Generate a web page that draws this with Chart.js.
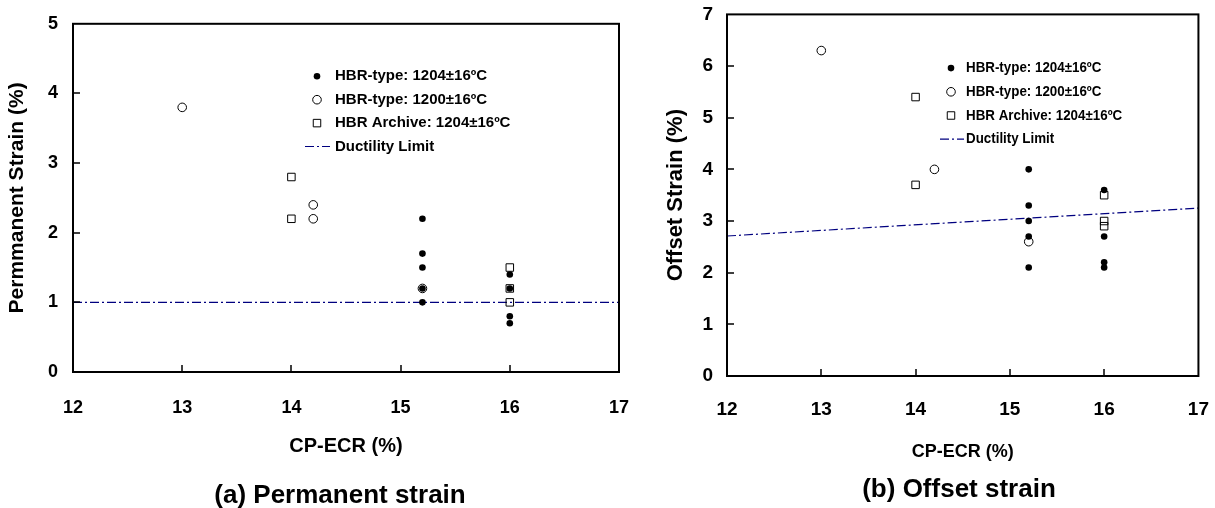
<!DOCTYPE html>
<html>
<head>
<meta charset="utf-8">
<script src="https://cdn.jsdelivr.net/npm/chart.js@4.4.1/dist/chart.umd.min.js"></script>
<style>
  html, body { margin: 0; padding: 0; background: #fff; }
  #wrap { position: relative; width: 1215px; height: 508px; overflow: hidden; }
  .box { position: absolute; }
  #boxA { left: 0; top: -2px; width: 660px; height: 510px; }
  #boxB { left: 650px; top: -11px; width: 581px; height: 519px; }
  .cap { position: absolute; font: bold 26px "Liberation Sans", Arial, sans-serif; color: #000;
         white-space: nowrap; transform: translate(-50%, -50%); }
</style>
</head>
<body>
<div id="wrap">
  <div class="box" id="boxA"><canvas id="chartA"></canvas></div>
  <div class="box" id="boxB"><canvas id="chartB"></canvas></div>
  <div class="cap" style="left:340px; top:494px">(a) Permanent strain</div>
  <div class="cap" style="left:959px; top:488px">(b) Offset strain</div>
</div>
<script>
// tick values
const xTickVals = [12, 13, 14, 15, 16, 17];
const yTickValsA = [0, 1, 2, 3, 4, 5];
const yTickValsB = [0, 1, 2, 3, 4, 5, 6, 7];

const seriesNames = ['HBR-type: 1204±16ºC', 'HBR-type: 1200±16ºC', 'HBR Archive: 1204±16ºC', 'Ductility Limit'];

// (a) permanent strain
const permFilledX = [15.2, 15.2, 15.2, 15.2, 15.2, 16, 16, 16, 16];
const permFilledY = [2.2, 1.7, 1.5, 1.2, 1.0, 1.4, 1.2, 0.8, 0.7];
const permOpenX = [13, 14.2, 14.2, 15.2];
const permOpenY = [3.8, 2.4, 2.2, 1.2];
const permArchX = [14, 14, 16, 16, 16];
const permArchY = [2.8, 2.2, 1.5, 1.2, 1.0];
const permLimitX = [12, 17];
const permLimitY = [1, 1];

// (b) offset strain
const offFilledX = [15.2, 15.2, 15.2, 15.2, 15.2, 16, 16, 16, 16];
const offFilledY = [4.0, 3.3, 3.0, 2.7, 2.1, 3.6, 2.7, 2.2, 2.1];
const offOpenX = [13, 14.2, 15.2];
const offOpenY = [6.3, 4.0, 2.6];
const offArchX = [14, 14, 16, 16, 16];
const offArchY = [5.4, 3.7, 3.5, 3.0, 2.9];
const offLimitX = [12, 17];
const offLimitY = [2.71, 3.25];

const pts = (xs, ys) => xs.map((x, i) => ({ x: x, y: ys[i] }));

function makeDatasets(fx, fy, ox, oy, ax, ay, lx, ly) {
  return [
    { label: seriesNames[0], data: pts(fx, fy), pointStyle: 'circle', pointRadius: 3.3,
      backgroundColor: '#000', borderColor: '#000', borderWidth: 0 },
    { label: seriesNames[1], data: pts(ox, oy), pointStyle: 'circle', pointRadius: 4.3,
      backgroundColor: 'rgba(0,0,0,0)', borderColor: '#000', borderWidth: 1 },
    { label: seriesNames[2], data: pts(ax, ay), pointStyle: 'rect', pointRadius: 5.3,
      backgroundColor: 'rgba(0,0,0,0)', borderColor: '#000', borderWidth: 1 },
    { label: seriesNames[3], data: pts(lx, ly), showLine: true, pointRadius: 0,
      borderColor: '#00007f', borderWidth: 1.2, borderDash: [9, 3, 2, 3] }
  ];
}

// box around the plot + inward tick marks
const frame = {
  id: 'frame',
  afterDraw(chart) {
    const { ctx, chartArea: a, scales } = chart;
    ctx.save();
    ctx.strokeStyle = '#000';
    ctx.lineWidth = 2;
    ctx.strokeRect(a.left, a.top, a.right - a.left, a.bottom - a.top);
    ctx.lineWidth = 1.5;
    ctx.beginPath();
    scales.x.ticks.forEach(t => {
      if (t.value === scales.x.min || t.value === scales.x.max) return;
      const px = Math.round(scales.x.getPixelForValue(t.value));
      ctx.moveTo(px, a.bottom);
      ctx.lineTo(px, a.bottom - 7);
    });
    scales.y.ticks.forEach(t => {
      if (t.value === scales.y.min || t.value === scales.y.max) return;
      const py = Math.round(scales.y.getPixelForValue(t.value));
      ctx.moveTo(a.left, py);
      ctx.lineTo(a.left + 7, py);
    });
    ctx.stroke();
    ctx.restore();
  }
};

// legend drawn inside the plot area
const insideLegend = {
  id: 'insideLegend',
  afterDraw(chart, args, o) {
    const { ctx, chartArea: a } = chart;
    const x0 = a.left + o.dx, y0 = a.top + o.dy;
    ctx.save();
    ctx.font = o.font;
    ctx.textBaseline = 'middle';
    chart.data.datasets.forEach((ds, i) => {
      const y = y0 + i * o.rowH;
      ctx.setLineDash([]);
      if (ds.showLine) {
        ctx.strokeStyle = ds.borderColor;
        ctx.lineWidth = ds.borderWidth;
        ctx.setLineDash(ds.borderDash);
        ctx.beginPath();
        ctx.moveTo(x0 + o.lineFrom, y);
        ctx.lineTo(x0 + o.lineTo, y);
        ctx.stroke();
        ctx.setLineDash([]);
      } else {
        ctx.fillStyle = ds.backgroundColor;
        ctx.strokeStyle = ds.borderColor;
        ctx.lineWidth = ds.borderWidth || 1;
        ctx.beginPath();
        if (ds.pointStyle === 'rect') {
          const s = ds.pointRadius * Math.SQRT1_2;
          ctx.rect(x0 - s, y - s, 2 * s, 2 * s);
        } else {
          ctx.arc(x0, y, ds.pointRadius, 0, Math.PI * 2);
        }
        ctx.fill();
        if (ds.borderWidth > 0) ctx.stroke();
      }
      // squeeze the text a little where the original used a narrow face
      ctx.save();
      ctx.translate(x0 + o.textDx, y);
      ctx.scale(o.squeeze || 1, 1);
      ctx.fillStyle = '#000';
      ctx.fillText(ds.label, 0, 0);
      ctx.restore();
    });
    ctx.restore();
  }
};

function axis(vals, min, max, cfg) {
  return {
    type: 'linear', min: min, max: max,
    afterBuildTicks: s => { s.ticks = vals.map(v => ({ value: v })); },
    grid: { display: false, drawTicks: false },
    border: { display: false },
    ticks: { font: cfg.tickFont, color: '#000', padding: cfg.tickPad },
    title: { display: true, text: cfg.title, font: cfg.titleFont, color: '#000', padding: cfg.titlePad },
    afterFit: cfg.fit
  };
}

const fam = 'Liberation Sans';

new Chart(document.getElementById('chartA'), {
  type: 'scatter',
  data: { datasets: makeDatasets(permFilledX, permFilledY, permOpenX, permOpenY,
                                 permArchX, permArchY, permLimitX, permLimitY) },
  options: {
    responsive: true, maintainAspectRatio: false, animation: false,
    layout: { padding: { top: 20, left: 0, right: 41, bottom: 30 } },
    scales: {
      x: axis(xTickVals, 12, 17, {
        tickFont: { family: fam, size: 18, weight: 'bold' }, tickPad: 25,
        title: 'CP-ECR (%)', titleFont: { family: fam, size: 20, weight: 'bold' },
        titlePad: { top: 0, bottom: 20 }, fit: s => { s.height = 106; } }),
      y: axis(yTickValsA, 0, 5, {
        tickFont: { family: fam, size: 18, weight: 'bold' }, tickPad: 15,
        title: 'Permmanent Strain (%)', titleFont: { family: fam, size: 21, weight: 'bold' },
        titlePad: { top: 5, bottom: 0 }, fit: s => { s.width = 73; } })
    },
    plugins: {
      legend: { display: false },
      tooltip: { enabled: false },
      insideLegend: { dx: 244, dy: 52.5, rowH: 23.4, textDx: 18, lineFrom: -12, lineTo: 13,
                      font: 'bold 15px "Liberation Sans", Arial, sans-serif' }
    }
  },
  plugins: [frame, insideLegend]
});

new Chart(document.getElementById('chartB'), {
  type: 'scatter',
  data: { datasets: makeDatasets(offFilledX, offFilledY, offOpenX, offOpenY,
                                 offArchX, offArchY, offLimitX, offLimitY) },
  options: {
    responsive: true, maintainAspectRatio: false, animation: false,
    layout: { padding: { top: 10, left: 0, right: 16, bottom: 30 } },
    scales: {
      x: axis(xTickVals, 12, 17, {
        tickFont: { family: fam, size: 19, weight: 'bold' }, tickPad: 22,
        title: 'CP-ECR (%)', titleFont: { family: fam, size: 18, weight: 'bold' },
        titlePad: { top: 0, bottom: 15 }, fit: s => { s.height = 102; } }),
      y: axis(yTickValsB, 0, 7, {
        tickFont: { family: fam, size: 19, weight: 'bold' }, tickPad: 14,
        title: 'Offset Strain (%)', titleFont: { family: fam, size: 22, weight: 'bold' },
        titlePad: { top: 13, bottom: 0 }, fit: s => { s.width = 77; } })
    },
    plugins: {
      legend: { display: false },
      tooltip: { enabled: false },
      insideLegend: { dx: 224, dy: 53.7, rowH: 23.7, textDx: 15, lineFrom: -11, lineTo: 13,
                      squeeze: 0.89, font: 'bold 15px "Liberation Sans", Arial, sans-serif' }
    }
  },
  plugins: [frame, insideLegend]
});
</script>
</body>
</html>
